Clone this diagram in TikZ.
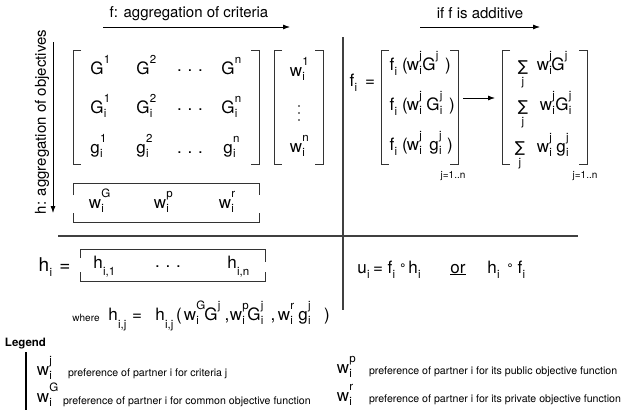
\documentclass[tikz,border=0pt]{standalone}
\usepackage{fontspec}
\setmainfont{TeX Gyre Heros}
\newfontfamily\symf{DejaVu Sans}
\usetikzlibrary{arrows.meta}
\newcommand\SUD[6]{%
  \node[#2, anchor=base] (#1) at (#3) {#4};
  \node[supx, anchor=base west] (#1-u) at ([xshift=0.3pt,yshift=10.5pt]#1.base east) {#5};
  \node[supx, anchor=base west] (#1-d) at ([xshift=0.3pt,yshift=-4pt]#1.base east) {#6};}
\newcommand\SU[5]{%
  \node[#2, anchor=base] (#1) at (#3) {#4};
  \node[supx, anchor=base west] (#1-u) at ([xshift=0.3pt,yshift=10.5pt]#1.base east) {#5};}
\newcommand\SD[6][-5pt]{%
  \node[#3, anchor=base] (#2) at (#4) {#5};
  \node[supx, anchor=base west] (#2-d) at ([xshift=0.3pt,yshift=#1]#2.base east) {#6};}
\begin{document}
\begin{tikzpicture}[x=1pt,y=-1pt,
  every node/.style={inner sep=0pt,outer sep=0pt},
  captxt/.style={font=\fontsize{15}{15}\selectfont},
  bigf/.style={font=\fontsize{17}{17}\selectfont},
  hbig/.style={font=\fontsize{19}{19}\selectfont},
  supx/.style={font=\fontsize{11.5}{11.5}\selectfont},
  smallf/.style={font=\fontsize{10}{10}\selectfont},
  leg/.style={font=\fontsize{10.6}{10.6}\selectfont, anchor=base west},
  brk/.style={line width=0.9pt, draw=black!80},
  divl/.style={line width=1.1pt, draw=black!75},
  arr/.style={-{Latex[length=7pt,width=5pt]}, line width=0.8pt},
  sumf/.style={font=\symf\fontsize{15}{15}\selectfont},
  circf/.style={font=\symf\fontsize{12}{12}\selectfont}]
\useasboundingbox (0,0) rectangle (629,410);
\fill[white] (0,0) rectangle (629,410);

% captions and arrows
\node[captxt] (capf) at (189,14) {f: aggregation of criteria};
\coordinate (af1) at (103,27); \coordinate (af2) at (290,27);
\draw[arr] (af1) -- (af2);
\node[captxt, rotate=90] (caph) at (42,122) {h: aggregation of objectives};
\coordinate (ah1) at (53,42); \coordinate (ah2) at (53,213);
\draw[arr] (ah1) -- (ah2);

% big matrix
\draw[brk] (81,50) -- (73,50) -- (73,164) -- (81,164);
\draw[brk] (251,50) -- (259,50) -- (259,164) -- (251,164);
\SU{m11}{bigf}{97,74}{G}{1}
\SU{m12}{bigf}{143,74}{G}{2}
\node[bigf,anchor=base] (m1d) at (190,71) {.\,\,.\,\,.};
\SU{m1n}{bigf}{228,74}{G}{n}
\SUD{m21}{bigf}{97,113}{G}{1}{i}
\SUD{m22}{bigf}{143,113}{G}{2}{i}
\node[bigf,anchor=base] (m2d) at (190,110) {.\,\,.\,\,.};
\SUD{m2n}{bigf}{228,113}{G}{n}{i}
\SUD{m31}{bigf}{95,153}{g}{1}{i}
\SUD{m32}{bigf}{141,153}{g}{2}{i}
\node[bigf,anchor=base] (m3d) at (190,153) {.\,\,.\,\,.};
\SUD{m3n}{bigf}{228,153}{g}{n}{i}

% weight vector
\draw[brk] (282,50) -- (274,50) -- (274,164) -- (282,164);
\draw[brk] (315,50) -- (323,50) -- (323,164) -- (315,164);
\SUD{v1}{bigf}{296,76}{w}{1}{i}
\foreach \yy in {106,113,120} \fill (299,\yy) circle (0.9pt);
\SUD{vn}{bigf}{296,152}{w}{n}{i}

% objective weights row
\draw[brk] (73,195) -- (73,183) -- (259,183) -- (259,195);
\draw[brk] (73,213) -- (73,222) -- (259,222) -- (259,213);
\SUD{rG}{bigf}{95,208}{w}{G}{i}
\SUD{rp}{bigf}{160,208}{w}{p}{i}
\SUD{rr}{bigf}{225,208}{w}{r}{i}

% dividers
\coordinate (vt) at (343,37); \coordinate (vb) at (343,310);
\draw[divl] (vt) -- (vb);
\coordinate (hl) at (58,236); \coordinate (hr) at (578,236);
\draw[divl] (hl) -- (hr);

% right top
\node[captxt] (capa) at (480,13) {if f is additive};
\coordinate (aa1) at (420,27); \coordinate (aa2) at (540,27);
\draw[arr] (aa1) -- (aa2);
\SD{fi}{bigf}{352,86}{f}{i}
\node[bigf,anchor=base] (feq) at (370,86) {=};
\draw[brk] (389,50) -- (381,50) -- (381,164) -- (389,164);
\draw[brk] (450,50) -- (458,50) -- (458,164) -- (450,164);
% row 1
\SD{fa}{bigf}{392,70}{f}{i}
\node[bigf,anchor=base] (fap) at (405,70) {(};
\SUD{faw}{bigf}{413,70}{w}{j}{i}
\SU{faG}{bigf}{429,70}{G}{j}
\node[bigf,anchor=base] (faq) at (448,70) {)};
% row 2
\SD{fb}{bigf}{392,110}{f}{i}
\node[bigf,anchor=base] (fbp) at (405,110) {(};
\SUD{fbw}{bigf}{413,110}{w}{j}{i}
\SUD{fbG}{bigf}{433,110}{G}{j}{i}
\node[bigf,anchor=base] (fbq) at (452,110) {)};
% row 3
\SD{fc}{bigf}{392,150}{f}{i}
\node[bigf,anchor=base] (fcp) at (405,150) {(};
\SUD{fcw}{bigf}{413,150}{w}{j}{i}
\SUD{fcg}{bigf}{434,150}{g}{j}{i}
\node[bigf,anchor=base] (fcq) at (450,150) {)};
\node[smallf] (jn1) at (453,176) {j=1..n};

\coordinate (ma1) at (463,98); \coordinate (ma2) at (495,98);
\draw[arr] (ma1) -- (ma2);

% sum matrix
\draw[brk] (510,50) -- (502,50) -- (502,164) -- (510,164);
\draw[brk] (579,50) -- (587,50) -- (587,164) -- (579,164);
\node[sumf,anchor=base] (sa) at (523,71) {∑};
\node[supx,anchor=base] (saj) at (523,85) {j};
\SUD{saw}{bigf}{543,70}{w}{j}{i}
\SU{saG}{bigf}{558,70}{G}{j}
\node[sumf,anchor=base] (sb) at (523,111) {∑};
\node[supx,anchor=base] (sbj) at (523,125) {j};
\SUD{sbw}{bigf}{546,110}{w}{j}{i}
\SUD{sbG}{bigf}{562,110}{G}{j}{i}
\node[sumf,anchor=base] (sc) at (520,152) {∑};
\node[supx,anchor=base] (scj) at (520,166) {j};
\SUD{scw}{bigf}{543,152}{w}{j}{i}
\SUD{scg}{bigf}{561,152}{g}{j}{i}
\node[smallf] (jn2) at (585,176) {j=1..n};

% h_i
\SD{hi}{hbig}{44,271}{h}{i}
\node[hbig,anchor=base] (heq) at (65,271) {=};
\draw[brk] (80,258) -- (80,249) -- (265,249) -- (265,262);
\draw[brk] (80,272) -- (80,281) -- (265,281) -- (265,272);
\SD[-7pt]{h1}{bigf}{98,268}{h}{i,1}
\node[bigf,anchor=base] (hd) at (168,267) {.\,\,.\,\,.};
\SD[-7pt]{hn}{bigf}{232,268}{h}{i,n}

% where line
\node[smallf,anchor=base] (wh) at (86,321) {where};
\SD[-8pt]{wh1}{bigf}{113,320}{h}{i,j}
\node[bigf,anchor=base] (weq) at (137,320) {=};
\SD[-8pt]{wh2}{bigf}{160,320}{h}{i,j}
\node[bigf,anchor=base] (wp) at (179,320) {(};
\SUD{ww1}{bigf}{190,320}{w}{G}{i}
\SU{wG1}{bigf}{211,320}{G}{j}
\node[bigf,anchor=base] (wc1) at (227,320) {,};
\SUD{ww2}{bigf}{236,320}{w}{p}{i}
\SUD{wG2}{bigf}{254,320}{G}{j}{i}
\node[bigf,anchor=base] (wc2) at (273,320) {,};
\SUD{ww3}{bigf}{284,320}{w}{r}{i}
\SUD{wg3}{bigf}{303,320}{g}{j}{i}
\node[bigf,anchor=base] (wq) at (327,320) {)};

% u line
\SD{u}{bigf}{362,273}{u}{i}
\node[bigf,anchor=base] (ueq) at (378,273) {=};
\SD{uf}{bigf}{390,273}{f}{i}
\node[circf] (uc1) at (403,267) {∘};
\SD{uh}{bigf}{413,273}{h}{i}
\node[bigf,anchor=base] (uor) at (458,273) {\underline{or}};
\SD{uh2}{bigf}{492,273}{h}{i}
\node[circf] (uc2) at (510,267) {∘};
\SD{uf2}{bigf}{520,273}{f}{i}

% legend
\node[font=\bfseries\fontsize{11.5}{11.5}\selectfont, anchor=base west] (legend) at (5,346) {Legend};
\coordinate (lb1) at (26,352); \coordinate (lb2) at (26,410);
\draw[line width=2pt] (lb1) -- (lb2);
\SUD{l1}{bigf}{43,375}{w}{j}{i}
\node[leg] (l1t) at (68,376) {preference of partner i for criteria j};
\SUD{l2}{bigf}{43,402}{w}{G}{i}
\node[leg] (l2t) at (63,404) {preference of partner i for common objective function};
\SUD{l3}{bigf}{343,373}{w}{p}{i}
\node[leg] (l3t) at (369,374) {preference of partner i for its public objective function};
\SUD{l4}{bigf}{343,401}{w}{r}{i}
\node[leg] (l4t) at (369,402) {preference of partner i for its private objective function};
\end{tikzpicture}
\end{document}
